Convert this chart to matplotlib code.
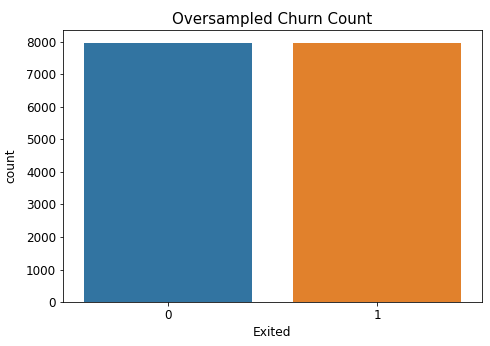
import matplotlib
matplotlib.use("Agg")
import matplotlib.pyplot as plt
import numpy as np

# Data
categories = ["0", "1"]
counts = [7963, 7963]
colors = ["#3274a1", "#e1812c"]

plt.rcParams["font.size"] = 12.3
plt.rcParams["xtick.labelsize"] = 12
plt.rcParams["ytick.labelsize"] = 12

fig = plt.figure(figsize=(490 / 72, 346 / 72), dpi=72)
ax = fig.add_axes([0.1286, 0.127, 0.855, 0.786])

x = np.arange(len(categories))
ax.bar(x, counts, width=0.8, color=colors)
ax.set_xticks(x)
ax.set_xticklabels(categories)
ax.set_xlim(-0.5, len(categories) - 0.5)
ax.set_ylim(0, max(counts) * 1.05)
ax.set_yticks(np.arange(0, 8001, 1000))
ax.set_xlabel("Exited")
ax.set_ylabel("count", labelpad=8)
ax.set_title("Oversampled Churn Count", fontsize=15)

fig.savefig("out.png", dpi=72)
